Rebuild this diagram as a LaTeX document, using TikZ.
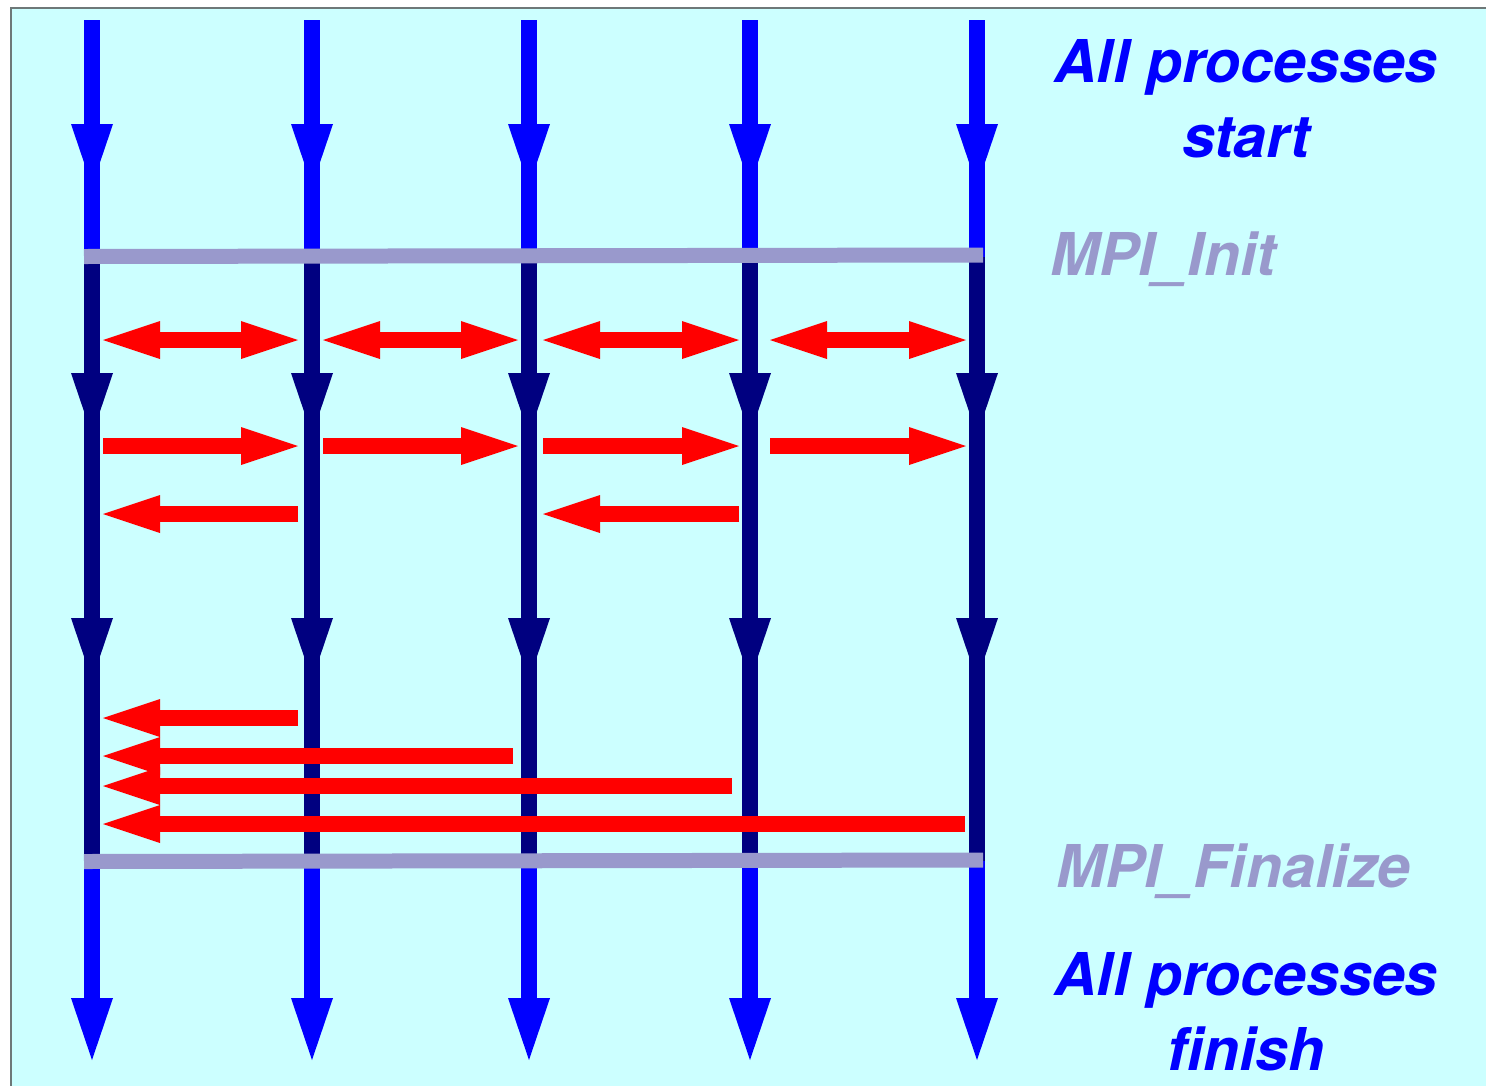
\documentclass[tikz,border=0pt]{standalone}
\usepackage{fontspec}
\setmainfont{TeX Gyre Heros}
\usetikzlibrary{arrows.meta}
\definecolor{bgcyan}{HTML}{CCFFFF}
\definecolor{framegray}{HTML}{6E7878}
\definecolor{procblue}{HTML}{0000FF}
\definecolor{procnavy}{HTML}{000080}
\definecolor{syncgray}{HTML}{9999CC}
\definecolor{msgred}{HTML}{FF0000}
\tikzset{
	proc/.style = {
		line width = 16pt,
		draw = #1
	},
	flow/.style = {
		-{Triangle[width = 42pt, length = 62pt, line width = 0pt]}
	},
	sync/.style = {
		line width = 15pt,
		draw = syncgray
	},
	msg/.style = {
		line width = 16pt,
		draw = msgred
	},
	head/.tip = {Triangle[width = 38pt, length = 57pt, line width = 0pt]},
	tag/.style = {
		font = \fontsize{59}{75}\selectfont\bfseries\itshape,
		inner sep = 0pt,
		align = center
	}
}

\begin{document}
\begin{tikzpicture}[x = 1pt, y = -1pt]
		\useasboundingbox (0,0) rectangle (1486,1085);
		\filldraw[fill = bgcyan, draw = framegray, line width = 1.5pt] (11,8) rectangle (1500,1100);

		\foreach \x [count = \i] in {92, 312, 529, 750, 977} {
			\coordinate (P\i) at (\x,0);
			\draw[proc = procblue] (\x,20) -- (\x,257);
			\draw[proc = procblue, flow] (\x,20) -- (\x,186);
			\draw[proc = procnavy] (\x,257) -- (\x,861);
			\draw[proc = procnavy, flow] (\x,257) -- (\x,435);
			\draw[proc = procnavy, flow] (\x,435) -- (\x,680);
			\draw[proc = procblue, flow] (\x,861) -- (\x,1060);
		}

		\draw[sync] (84,256.5) -- (983,255);
		\draw[sync] (84,861.5) -- (983,860);

		\foreach \a/\b in {103/298, 323/518, 543/739, 770/966} {
			\draw[msg, head-head] (\a,340) -- (\b,340);
			\draw[msg, -head] (\a,446) -- (\b,446);
		}
		\foreach \a/\b in {298/103, 739/543}
			\draw[msg, -head] (\a,514) -- (\b,514);
		\foreach \a/\y in {298/718, 513/756, 732/786, 965/824}
			\draw[msg, -head] (\a,\y) -- (103,\y);

		\node[tag, text = procblue, anchor = base] (start) at (1246,157) {All processes\\start};
		\node[tag, text = syncgray, anchor = base west] (init) at (1050,275) {MPI\_Init};
		\node[tag, text = syncgray, anchor = base west] (final) at (1056,887) {MPI\_Finalize};
		\node[tag, text = procblue, anchor = base] (finish) at (1246,1070) {All processes\\finish};
	\end{tikzpicture}
\end{document}
